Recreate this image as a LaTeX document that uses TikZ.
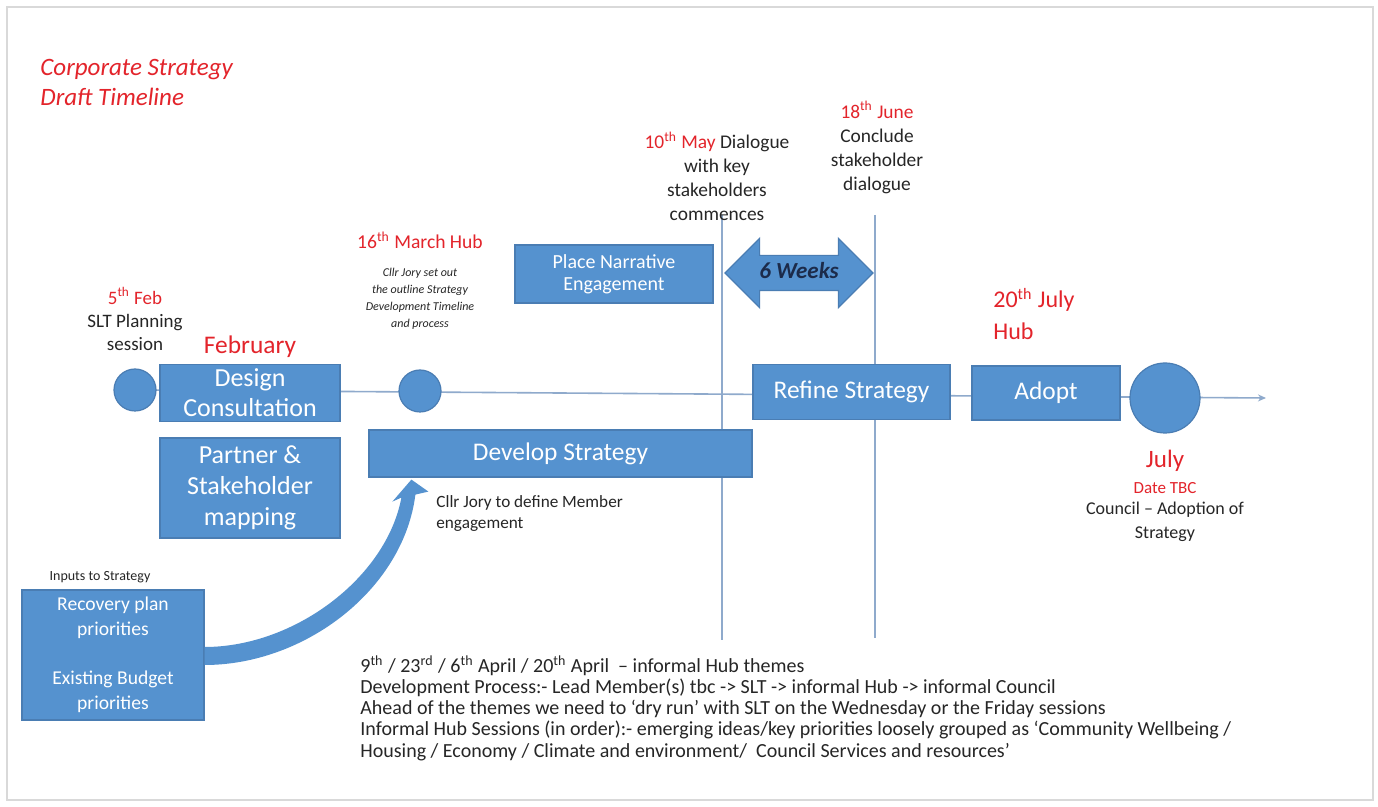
\documentclass[tikz,border=0pt]{standalone}
\usepackage{fontspec}
\setmainfont{Carlito}
\usepackage{xcolor}
\usetikzlibrary{positioning, arrows.meta, calc, shapes.arrows, backgrounds}
\definecolor{boxblue}{HTML}{5592CF}
\definecolor{boxedge}{HTML}{4A7DB3}
\definecolor{datered}{HTML}{E3242B}
\definecolor{lineblue}{HTML}{8FAACC}
\definecolor{textgrey}{HTML}{262626}
\definecolor{weeknavy}{HTML}{1C2B4A}
\definecolor{framegrey}{HTML}{D9D9D9}

\tikzset{
  stagebox/.style={fill=boxblue, draw=boxedge, line width=0.6pt, text=white, align=center, inner sep=0pt},
  milestone/.style={circle, fill=boxblue, draw=boxedge, line width=0.6pt, inner sep=0pt},
  datelabel/.style={text=datered, align=center, inner sep=0pt},
  note/.style={text=textgrey, align=center, inner sep=0pt},
  gridline/.style={draw=lineblue, line width=0.8pt}
}

\begin{document}
\begin{tikzpicture}[x=0.5pt, y=-0.5pt]
  \useasboundingbox (0,0) rectangle (1378,807);

  \node[datelabel, anchor=west, align=left, font=\fontsize{12.5}{15}\selectfont\itshape] (title) at (40,82)
    {Corporate Strategy\\Draft Timeline};

  % timeline stages
  \node[milestone, minimum size=21pt] (feb5) at (135,390) {};
  \node[stagebox, minimum width=90pt, minimum height=28.5pt, font=\fontsize{13}{15}\selectfont] (design) at (250,393)
    {Design\\Consultation};
  \node[stagebox, minimum width=90pt, minimum height=50pt, font=\fontsize{13}{15.5}\selectfont] (partner) at (250,488)
    {Partner \&\\Stakeholder\\mapping};
  \node[milestone, minimum size=21pt] (mar16) at (420,391) {};
  \node[stagebox, minimum width=191.5pt, minimum height=23.5pt, font=\fontsize{12.7}{14}\selectfont] (develop) at (560.5,453.5)
    {Develop Strategy};
  \node[stagebox, minimum width=99pt, minimum height=29pt, font=\fontsize{10}{11}\selectfont] (place) at (614,274)
    {Place Narrative\\Engagement};
  \node[stagebox, minimum width=98.5pt, minimum height=27.5pt, font=\fontsize{12.7}{14}\selectfont] (refine) at (851.5,392)
    {Refine Strategy};
  \node[stagebox, minimum width=74pt, minimum height=27pt, font=\fontsize{12.7}{14}\selectfont] (adopt) at (1046,393)
    {Adopt};
  \node[milestone, minimum size=35pt] (july) at (1165,398) {};
  \coordinate (tend) at (1266,398);

  \node[double arrow, fill=boxblue, draw=boxedge, line width=0.6pt, minimum height=74pt,
        double arrow head extend=8.5pt, text height=7.5pt, text depth=1.5pt, inner ysep=4pt, inner xsep=0pt,
        text=weeknavy, font=\fontsize{11.5}{13}\selectfont\bfseries\itshape] (weeks) at (799,273) {6 Weeks};

  \node[stagebox, minimum width=91pt, minimum height=65pt, font=\fontsize{9.8}{12.5}\selectfont] (inputs) at (113,655)
    {Recovery plan\\priorities\\[12pt]Existing Budget\\priorities};
  \node[note, font=\fontsize{7}{8}\selectfont] (inputslbl) at (100,577) {Inputs to Strategy};

  % dates and notes
  \node[note, font=\fontsize{9.5}{11.5}\selectfont] (feblbl) at (135,319)
    {\textcolor{datered}{5\textsuperscript{th} Feb}\\SLT Planning\\session};
  \node[datelabel, above=3pt of design, font=\fontsize{12.7}{14}\selectfont] (febmonth) {February};
  \node[datelabel, font=\fontsize{9.8}{11}\selectfont] (marlbl) at (420,240) {16\textsuperscript{th} March Hub};
  \node[note, font=\fontsize{6}{8.5}\selectfont\itshape] (marnote) at (420,298.5)
    {Cllr Jory set out\\the outline Strategy\\Development Timeline\\and process};
  \node[note, anchor=west, align=left, font=\fontsize{8.6}{10.5}\selectfont] (jorynote) at (436,513.5)
    {Cllr Jory to define Member\\engagement};
  \node[note, font=\fontsize{9.7}{12}\selectfont] (maylbl) at (717,176)
    {\textcolor{datered}{10\textsuperscript{th} May} Dialogue\\with key\\stakeholders\\commences};
  \node[note, font=\fontsize{9.7}{12}\selectfont] (junelbl) at (877,147.5)
    {\textcolor{datered}{18\textsuperscript{th}\ June}\\Conclude\\stakeholder\\dialogue};
  \node[datelabel, anchor=west, align=left, font=\fontsize{12}{16}\selectfont] (hublbl) at (993,314)
    {20\textsuperscript{th} July\\Hub};
  \node[datelabel, font=\fontsize{12.5}{14}\selectfont] (julylbl) at (1165,461) {July};
  \node[datelabel, font=\fontsize{8.5}{10}\selectfont] (tbclbl) at (1165,488) {Date TBC};
  \node[note, font=\fontsize{9}{12}\selectfont] (councillbl) at (1165,522) {Council -- Adoption of\\Strategy};

  \node[note, anchor=north west, align=left, font=\fontsize{10}{10.6}\selectfont] (process) at (360,655)
    {9\textsuperscript{th} / 23\textsuperscript{rd} / 6\textsuperscript{th} April / 20\textsuperscript{th} April \ -- informal Hub themes\\
     Development Process:- Lead Member(s) tbc -> SLT -> informal Hub -> informal Council\\
     Ahead of the themes we need to `dry run' with SLT on the Wednesday or the Friday sessions\\
     Informal Hub Sessions (in order):- emerging ideas/key priorities loosely grouped as `Community Wellbeing /\\
     Housing / Economy / Climate and environment/ \ Council Services and resources'};

  \coordinate (maytop) at (722,215);
  \coordinate (maybot) at (722,640);
  \coordinate (junetop) at (875,215);
  \coordinate (junebot) at (875,638);

  \begin{scope}[on background layer]
    \fill[white] (0,0) rectangle (1378,807);
    \draw[framegrey, line width=1pt] (7,7) rectangle (1373,800);
    \draw[gridline, -{Stealth[length=4pt, width=3.5pt]}] (feb5.center) -- (tend);
    \draw[gridline] (maytop) -- (maybot);
    \draw[gridline] (junetop) -- (junebot);
  \end{scope}

  % inputs feed into develop strategy
  \fill[boxblue] ($(inputs.east)+(0,-8)$) .. controls +(90,0) and +(-15,80) .. ($(develop.south west)+(33,20)$)
    -- ($(develop.south west)+(24,24)$) -- ($(develop.south west)+(43,2)$) -- ($(develop.south west)+(60,14)$)
    -- ($(develop.south west)+(47,17)$) .. controls +(-12,95) and +(100,0) .. ($(inputs.east)+(0,10)$) -- cycle;
\end{tikzpicture}
\end{document}
